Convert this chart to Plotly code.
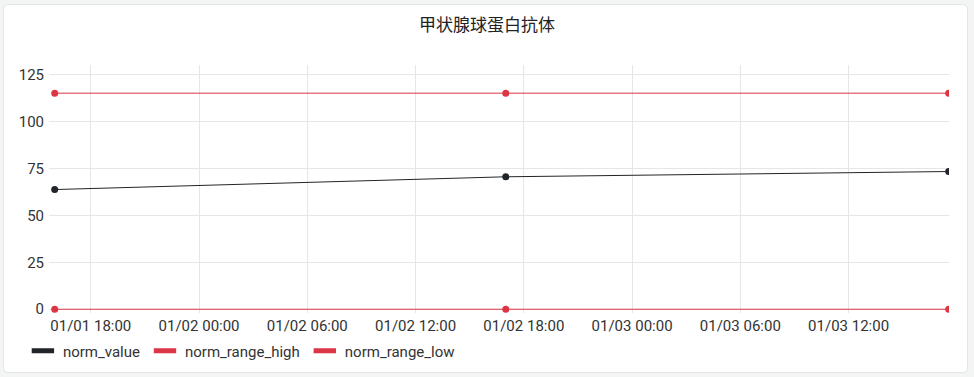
import plotly.graph_objects as go

title = "甲状腺球蛋白抗体"
times = ["2024-01-01 16:00", "2024-01-02 17:00", "2024-01-03 17:33"]
norm_value = [63.7, 70.5, 73.3]
norm_range_high = [115, 115, 115]
norm_range_low = [0, 0, 0]
series_names = ["norm_value", "norm_range_high", "norm_range_low"]
series_colors = ["#212529", "#dc3545", "#dc3545"]
y_ticks = [0, 25, 50, 75, 100, 125]

fig = go.Figure()
for name, vals, col in zip(series_names, [norm_value, norm_range_high, norm_range_low], series_colors):
    fig.add_trace(go.Scatter(
        x=times, y=vals, mode="lines+markers", name=name, showlegend=False,
        line=dict(color=col, width=1), marker=dict(color=col, size=7),
    ))
    # legend swatch entry (short thick bar)
    fig.add_trace(go.Scatter(
        x=[None], y=[None], mode="markers", name=name, showlegend=True,
        marker=dict(symbol="line-ew", size=16, color=col, line=dict(color=col, width=5)),
    ))

W, H = 974, 377
ml, mr, mt, mb = 49, 25, 65, 64
pw, ph = W - ml - mr, H - mt - mb

def P(px, py):
    return f"{(px - ml) / pw:.5f},{(H - mb - py) / ph:.5f}"

x0, y0, x1, y1, r = 3.5, 4.5, 967.5, 372.5, 5
path = (f"M{P(x0+r,y0)} L{P(x1-r,y0)} Q{P(x1,y0)} {P(x1,y0+r)} L{P(x1,y1-r)} Q{P(x1,y1)} {P(x1-r,y1)} "
        f"L{P(x0+r,y1)} Q{P(x0,y1)} {P(x0,y1-r)} L{P(x0,y0+r)} Q{P(x0,y0)} {P(x0+r,y0)} Z")
fig.add_shape(type="path", path=path, xref="paper", yref="paper", layer="below",
              fillcolor="white", line=dict(color="#e2e4e5", width=1))

fig.update_layout(
    width=W, height=H,
    margin=dict(l=ml, r=mr, t=mt, b=mb, autoexpand=False),
    paper_bgcolor="#f3f4f4",
    plot_bgcolor="rgba(0,0,0,0)",
    font=dict(family="Roboto, 'Noto Sans CJK SC', sans-serif", size=15, color="#333333"),
    title=dict(text=title, x=0.5, xanchor="center", y=1 - 25 / H, yanchor="middle",
               font=dict(family="'Noto Sans CJK SC', sans-serif", size=17, color="#222222")),
    xaxis=dict(
        type="date", automargin=False,
        range=["2024-01-01 15:41", "2024-01-03 17:34"],
        tick0="2024-01-01 00:00", dtick=6 * 3600 * 1000,
        tickformat="%m/%d %H:%M",
        showgrid=True, gridcolor="#e6e6e6", gridwidth=1,
        zeroline=False, showline=False, ticks="",
        ticklabelstandoff=2,
        tickfont=dict(size=15, color="#333333"),
    ),
    yaxis=dict(
        automargin=False,
        range=[-2, 130],
        tickvals=y_ticks,
        showgrid=True, gridcolor="#e6e6e6", gridwidth=1,
        zeroline=False, showline=False, ticks="",
        ticklabelstandoff=4,
        tickfont=dict(size=15, color="#333333"),
    ),
    legend=dict(orientation="h", x=-0.029, xanchor="left",
                yref="container", y=1 - 351 / H, yanchor="middle",
                font=dict(size=15, color="#333333"), bgcolor="rgba(0,0,0,0)"),
    showlegend=True,
)

fig.write_html("out.html")
